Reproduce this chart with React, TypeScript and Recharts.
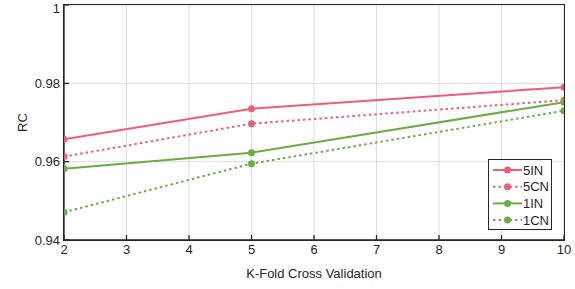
import React from 'react';
import { LineChart, Line, XAxis, YAxis, CartesianGrid } from 'recharts';

const folds = [2, 5, 10];
const s5IN = [0.9657, 0.9735, 0.979];
const s5CN = [0.9613, 0.9697, 0.9757];
const s1IN = [0.9582, 0.9623, 0.9752];
const s1CN = [0.9471, 0.9595, 0.973];
const xTicks = [2, 3, 4, 5, 6, 7, 8, 9, 10];
const yTicks = [0.94, 0.96, 0.98, 1];
const xDomain = [2, 10];
const yDomain = [0.94, 1];

const RED = '#EE5E75';
const GREEN = '#6AAD45';
const AXIS = '#262626';

const series = [
  { key: 's5IN', name: '5IN', color: RED, dash: undefined as string | undefined },
  { key: 's5CN', name: '5CN', color: RED, dash: '2.5 3' },
  { key: 's1IN', name: '1IN', color: GREEN, dash: undefined },
  { key: 's1CN', name: '1CN', color: GREEN, dash: '2.5 3' },
];

const data = folds.map((k, i) => ({ k, s5IN: s5IN[i], s5CN: s5CN[i], s1IN: s1IN[i], s1CN: s1CN[i] }));

const font = { fontFamily: 'Liberation Sans, Arial, sans-serif', fontSize: 13, fill: '#262626' };

const PLOT = { left: 64, top: 5, right: 11, bottom: 49 };

export default function App() {
  return (
    <div style={{ position: 'absolute', left: 0, top: 0, width: 575, height: 289, background: '#fff' }}>
      <LineChart width={575} height={289} data={data} margin={{ top: PLOT.top, right: PLOT.right, left: 0, bottom: 0 }}>
        <CartesianGrid stroke="#dcdcdc" strokeWidth={1} verticalValues={xTicks} horizontalValues={yTicks} />
        <XAxis
          dataKey="k"
          type="number"
          domain={xDomain}
          ticks={xTicks}
          allowDataOverflow
          height={PLOT.bottom}
          tickSize={-5}
          tickMargin={10}
          stroke={AXIS}
          strokeWidth={1.3}
          tick={font}
          label={{ value: 'K-Fold Cross Validation', position: 'insideBottom', offset: 11, style: font }}
        />
        <YAxis
          type="number"
          domain={yDomain}
          ticks={yTicks}
          allowDataOverflow
          width={PLOT.left}
          tickSize={-5}
          tickMargin={9}
          stroke={AXIS}
          strokeWidth={1.3}
          tick={font}
          label={{ value: 'RC', angle: -90, position: 'center', dx: -10, style: font }}
        />
        {series.map((s) => (
          <Line
            key={s.key}
            dataKey={s.key}
            name={s.name}
            stroke={s.color}
            strokeWidth={2}
            strokeDasharray={s.dash}
            dot={{ r: 3.5, fill: s.color, stroke: s.color, strokeWidth: 0, strokeDasharray: '' }}
            isAnimationActive={false}
          />
        ))}
      </LineChart>
      <div
        style={{
          position: 'absolute',
          left: PLOT.left - 0.6,
          top: PLOT.top - 0.6,
          width: 575 - PLOT.left - PLOT.right + 1.2,
          height: 289 - PLOT.top - PLOT.bottom + 1.2,
          border: `1.3px solid ${AXIS}`,
          boxSizing: 'border-box',
          pointerEvents: 'none',
        }}
      />
      <div
        style={{
          position: 'absolute',
          left: 488,
          top: 159,
          width: 64,
          height: 71,
          border: `1.3px solid ${AXIS}`,
          background: '#fff',
          boxSizing: 'border-box',
        }}
      >
        <svg width={64} height={71} style={{ position: 'absolute', left: -1, top: -1 }}>
          {series.map((s, i) => {
            const y = 11 + i * 16.7;
            return (
              <g key={s.key}>
                <line x1={5} x2={34} y1={y} y2={y} stroke={s.color} strokeWidth={2} strokeDasharray={s.dash} />
                <circle cx={19.5} cy={y} r={3.5} fill={s.color} />
                <text x={35} y={y + 4.6} style={font}>
                  {s.name}
                </text>
              </g>
            );
          })}
        </svg>
      </div>
    </div>
  );
}
